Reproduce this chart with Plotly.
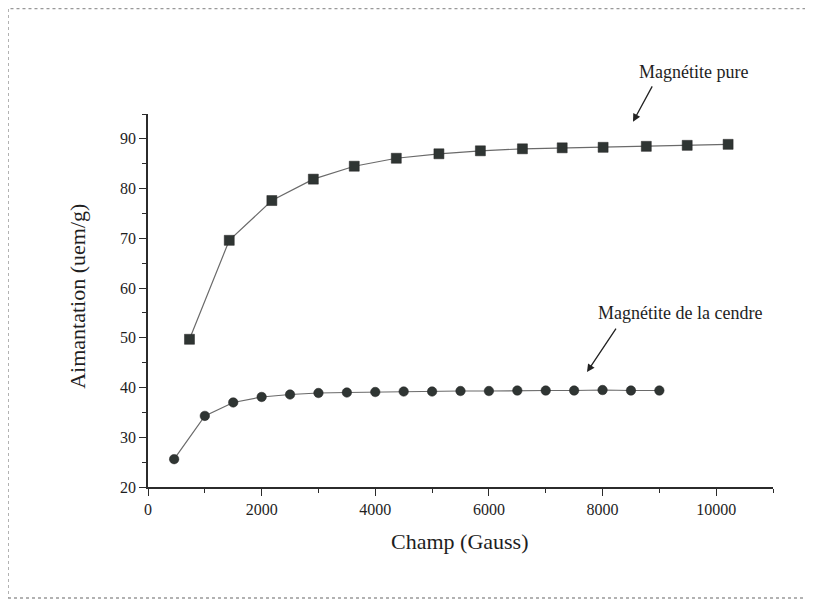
import plotly.graph_objects as go

# Magnétite pure (squares)
pure_x = [730, 1430, 2180, 2910, 3630, 4370, 5120, 5850, 6590, 7290, 8010, 8770, 9490, 10210]
pure_y = [49.7, 69.6, 77.6, 81.9, 84.5, 86.1, 87.0, 87.6, 88.0, 88.2, 88.3, 88.5, 88.7, 88.9]

# Magnétite de la cendre (circles)
cendre_x = [460, 1000, 1500, 2000, 2500, 3000, 3500, 4000, 4500, 5000, 5500, 6000, 6500, 7000, 7500, 8000, 8500, 9000]
cendre_y = [25.6, 34.3, 37.0, 38.1, 38.6, 38.9, 39.0, 39.1, 39.2, 39.2, 39.3, 39.3, 39.4, 39.4, 39.4, 39.5, 39.4, 39.4]

x_ticks = [0, 2000, 4000, 6000, 8000, 10000]
y_ticks = [20, 30, 40, 50, 60, 70, 80, 90]

FONT = "Liberation Serif, Times New Roman, serif"
AX = "#2b2b2b"
TXT = "#1e1e1e"

fig = go.Figure()
fig.add_trace(go.Scatter(
    x=pure_x, y=pure_y, mode="lines+markers", name="Magnétite pure",
    line=dict(color="#6a6a6a", width=1.2),
    marker=dict(symbol="square", size=10, color="#2f3533", line=dict(color="#222", width=0.5)),
    cliponaxis=False,
))
fig.add_trace(go.Scatter(
    x=cendre_x, y=cendre_y, mode="lines+markers", name="Magnétite de la cendre",
    line=dict(color="#6a6a6a", width=1.2),
    marker=dict(symbol="circle", size=9.5, color="#2f3533", line=dict(color="#222", width=0.5)),
    cliponaxis=False,
))

axis_common = dict(
    showline=True, linecolor=AX, linewidth=1.5,
    ticks="outside", ticklen=7, tickwidth=1.3, tickcolor=AX,
    showgrid=False, zeroline=False, mirror=False,
    tickfont=dict(family=FONT, size=16, color=TXT),
)

fig.update_xaxes(range=[0, 11000], tickvals=x_ticks, ticktext=[str(v) for v in x_ticks],
                 minor=dict(dtick=1000, ticks="outside", ticklen=4, tickwidth=1.2, tickcolor=AX),
                 **axis_common)
fig.update_yaxes(range=[20, 95], tickvals=y_ticks, ticktext=[str(v) for v in y_ticks],
                 minor=dict(dtick=5, ticks="outside", ticklen=4, tickwidth=1.2, tickcolor=AX),
                 **axis_common)

annots = [
    dict(x=0.873, y=1.1126, xref="paper", yref="paper", text="Magnétite pure", showarrow=False,
         xanchor="center", yanchor="middle",
         font=dict(family=FONT, size=18, color=TXT)),
    dict(x=0.776, y=0.979, xref="paper", yref="paper", ax=20, ay=-37, text="", showarrow=True,
         arrowhead=2, arrowsize=1.2, arrowwidth=1.3, arrowcolor="#222"),
    dict(x=0.8504, y=0.4665, xref="paper", yref="paper", text="Magnétite de la cendre", showarrow=False,
         xanchor="center", yanchor="middle",
         font=dict(family=FONT, size=18, color=TXT)),
    dict(x=7726, y=43.1, ax=30, ay=-45, text="", showarrow=True,
         arrowhead=2, arrowsize=1.2, arrowwidth=1.3, arrowcolor="#222"),
    dict(x=-0.112, y=0.51, xref="paper", yref="paper", text="Aimantation (uem/g)",
         textangle=-90, showarrow=False, xanchor="center", yanchor="middle",
         font=dict(family=FONT, size=22, color=TXT)),
    dict(x=0.4976, y=-0.147, xref="paper", yref="paper", text="Champ (Gauss)",
         showarrow=False, xanchor="center", yanchor="middle",
         font=dict(family=FONT, size=22, color=TXT)),
]
for a in annots:
    fig.add_annotation(**a)

fig.add_shape(type="rect", xref="paper", yref="paper",
              x0=-0.224, x1=1.0608, y0=-0.2976, y1=1.2828,
              line=dict(color="#999", width=1.5, dash="dot"))

fig.update_layout(
    width=805, height=594,
    margin=dict(l=140, r=40, t=106, b=115),
    paper_bgcolor="white", plot_bgcolor="white",
    showlegend=False,
    font=dict(family=FONT),
)

fig.write_html("out.html")
